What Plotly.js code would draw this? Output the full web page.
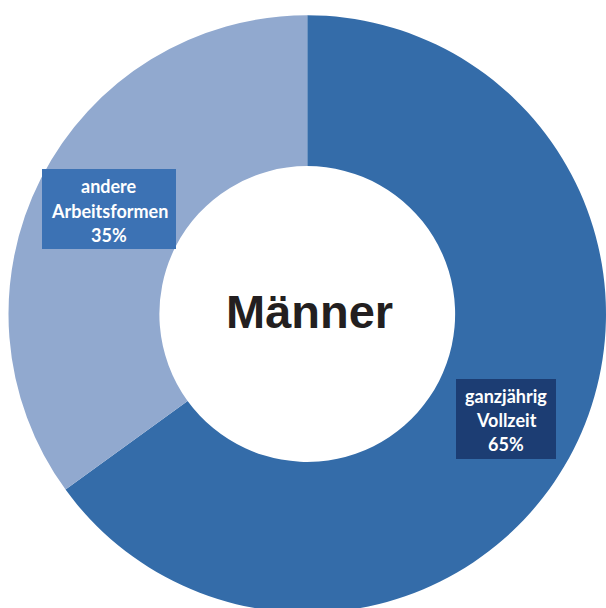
<!DOCTYPE html>
<html>
<head>
<meta charset="utf-8">
<script src="https://cdn.plot.ly/plotly-3.0.1.min.js"></script>
<style>
html,body{margin:0;padding:0;overflow:hidden;background:#fff;}
#chart{width:606px;height:616px;}
</style>
</head>
<body>
<div id="chart"></div>
<script>
const categories = ["ganzjährig Vollzeit", "andere Arbeitsformen"];
const values = [65, 35];
const sliceColors = ["#346ca9", "#91a9cf"];
const centerTitle = "Männer";

const W = 606, H = 616;
const cx = 307.5, cy = 314, R = 299;
const px = x => x / W;
const py = y => 1 - y / H;

const labelFont = {family: "Lato, 'Open Sans', sans-serif", size: 18, color: "#ffffff", weight: "bold"};

function boxLabel(lines, x0, y0, x1, y1, lineYs, fill) {
  const shape = {type: "rect", xref: "paper", yref: "paper", layer: "above",
    x0: px(x0), x1: px(x1), y0: py(y1), y1: py(y0), fillcolor: fill, line: {width: 0}};
  const anns = lines.map((t, i) => ({
    text: "<b>" + t + "</b>", xref: "paper", yref: "paper", showarrow: false,
    x: px((x0 + x1) / 2), y: py(lineYs[i]), xanchor: "center", yanchor: "middle",
    font: labelFont
  }));
  return {shape, anns};
}

const pct = values.map(v => Math.round(v / values.reduce((a, b) => a + b, 0) * 100) + "%");
const b1 = boxLabel(["andere", "Arbeitsformen", pct[1]], 42, 169, 176, 249, [186, 211, 235], "#3c72b4");
const b2 = boxLabel(["ganzjährig", "Vollzeit", pct[0]], 456, 379, 556, 459, [396, 420, 444], "#1c3d73");

const trace = {
  type: "pie",
  labels: categories,
  values: values,
  hole: 0.495,
  sort: false,
  direction: "clockwise",
  rotation: 0,
  marker: {colors: sliceColors, line: {width: 0}},
  textinfo: "none",
  hoverinfo: "label+percent",
  domain: {x: [px(cx - R), px(cx + R)], y: [py(cy + R), py(cy - R)]},
  showlegend: false
};

const layout = {
  width: W, height: H,
  margin: {l: 0, r: 0, t: 0, b: 0},
  paper_bgcolor: "#ffffff",
  showlegend: false,
  shapes: [b1.shape, b2.shape],
  annotations: [
    ...b1.anns, ...b2.anns,
    {text: "<b>" + centerTitle + "</b>", xref: "paper", yref: "paper", showarrow: false,
     x: px(cx + 2), y: py(311), xanchor: "center", yanchor: "middle",
     font: {family: "Arial, 'Liberation Sans', sans-serif", size: 47, color: "#231f20"}}
  ]
};

Plotly.newPlot("chart", [trace], layout, {displayModeBar: false, staticPlot: true});
</script>
</body>
</html>
